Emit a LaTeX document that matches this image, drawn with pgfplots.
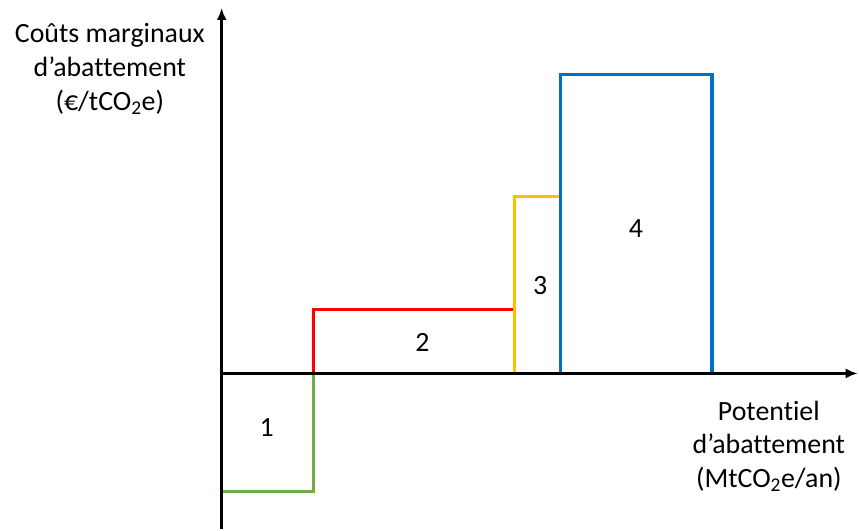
\documentclass[border=0pt]{standalone}
\usepackage{fontspec}
\setmainfont{Carlito}[Ligatures=NoCommon]
\usepackage{pgfplots}
\pgfplotsset{compat=1.18}
\usetikzlibrary{arrows.meta}
\definecolor{c1}{HTML}{70AD47}
\definecolor{c2}{HTML}{FF0000}
\definecolor{c3}{HTML}{FFC000}
\definecolor{c4}{HTML}{0070C0}
\begin{document}
\fontsize{28}{34}\selectfont
\begin{tikzpicture}
\begin{axis}[x=1bp, y=1bp, scale only axis,
  xmin=0, xmax=637, ymin=-156, ymax=366,
  axis lines=middle, xtick=\empty, ytick=\empty,
  axis line style={line width=2.6bp, -{Latex[length=12bp,width=10bp]}},
  clip=false, axis on top]
\path (axis cs:-222,-156) rectangle (axis cs:637,374);
% step segments of the curve
\addplot[c1, line width=3.2bp] coordinates {(0,-118) (92,-118) (92,0)};
\addplot[c2, line width=3.2bp] coordinates {(92,0) (92,64) (293,64) (293,0)};
\addplot[c3, line width=3.2bp] coordinates {(293,0) (293,177) (339,177) (339,0)};
\addplot[c4, line width=3.2bp] coordinates {(339,0) (339,299) (491,299) (491,0)};
\node at (axis cs:45,-54) {1};
\node at (axis cs:201,31) {2};
\node at (axis cs:319,88) {3};
\node at (axis cs:415,145) {4};
\node[align=center] at (axis cs:-112,305) {Coûts marginaux\\d’abattement\\(€/tCO\textsubscript{2}e)};
\node[align=center] at (axis cs:548,-73) {Potentiel\\d’abattement\\(MtCO\textsubscript{2}e/an)};
\end{axis}
\end{tikzpicture}
\end{document}
